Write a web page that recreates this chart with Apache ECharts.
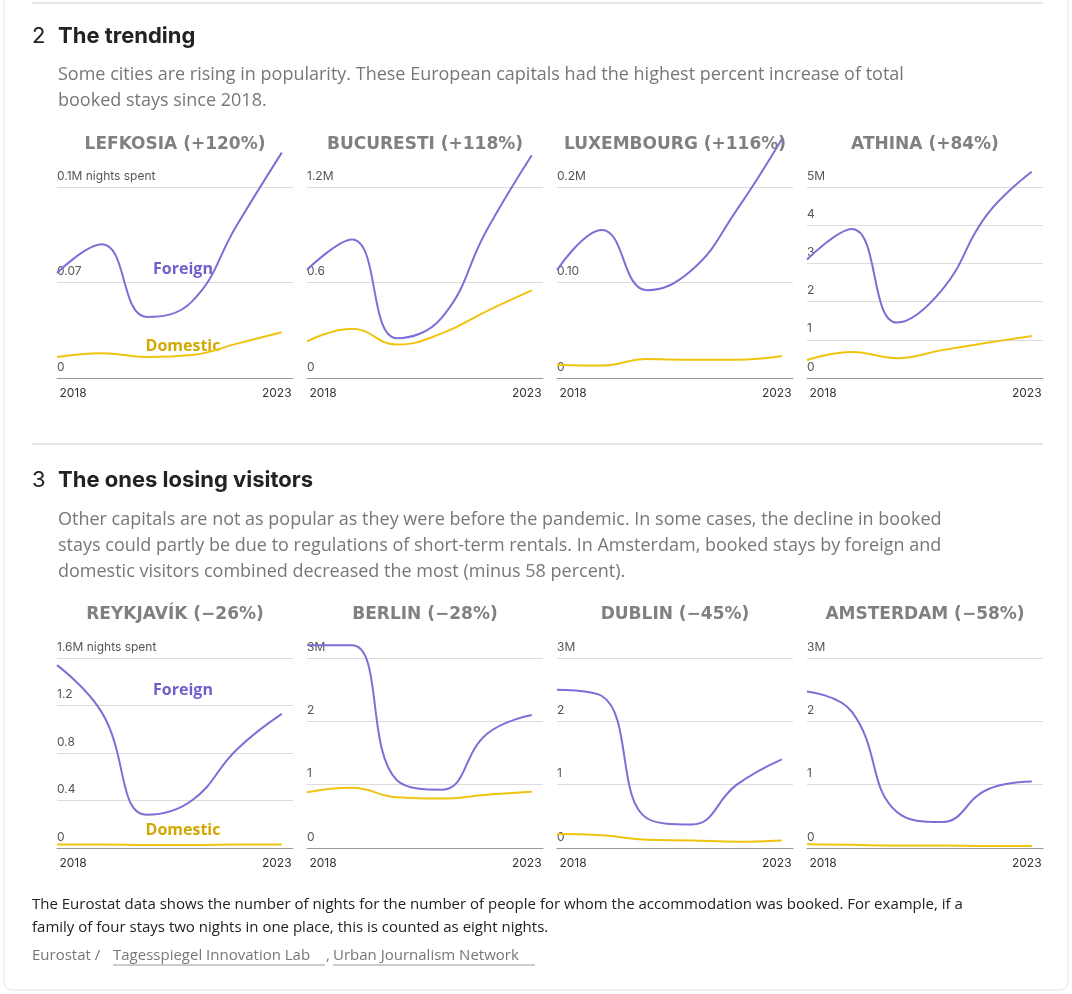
<!DOCTYPE html>
<html><head><meta charset="utf-8">
<script src="https://cdn.jsdelivr.net/npm/echarts@6/dist/echarts.min.js"></script>
<style>html,body{margin:0;padding:0;background:#fff}#c{width:1072px;height:994px}</style>
</head><body><div id="c"></div>
<script>
var years = [2018, 2019, 2020, 2021, 2022, 2023];
var titles = ['LEFKOSIA (+120%)', 'BUCURESTI (+118%)', 'LUXEMBOURG (+116%)', 'ATHINA (+84%)',
              'REYKJAVÍK (−26%)', 'BERLIN (−28%)', 'DUBLIN (−45%)', 'AMSTERDAM (−58%)'];
var foreign = [
    [0.055, 0.07, 0.032, 0.04, 0.08, 0.118],
    [0.68, 0.87, 0.25, 0.38, 0.93, 1.40],
    [0.113, 0.155, 0.092, 0.113, 0.176, 0.25],
    [3.1, 3.9, 1.45, 2.3, 4.27, 5.4],
    [1.54, 1.14, 0.28, 0.40, 0.83, 1.13],
    [3.2, 3.2, 1.07, 0.92, 1.8, 2.1],
    [2.5, 2.4, 0.47, 0.37, 1.0, 1.4],
    [2.47, 2.15, 0.57, 0.41, 0.92, 1.05]
];
var domestic = [
    [0.011, 0.013, 0.011, 0.012, 0.018, 0.024],
    [0.23, 0.31, 0.21, 0.28, 0.42, 0.55],
    [0.014, 0.013, 0.02, 0.019, 0.019, 0.023],
    [0.47, 0.68, 0.52, 0.73, 0.92, 1.1],
    [0.03, 0.03, 0.025, 0.025, 0.03, 0.03],
    [0.88, 0.95, 0.8, 0.78, 0.84, 0.89],
    [0.22, 0.2, 0.13, 0.12, 0.1, 0.12],
    [0.06, 0.05, 0.04, 0.04, 0.03, 0.03]
];
var yMax = [0.1, 1.2, 0.2, 5, 1.6, 3, 3, 3];
var yStep = [0.05, 0.6, 0.1, 1, 0.4, 1, 1, 1];
var tickLabels = [
    ['0', '0.07', '0.1M nights spent'],
    ['0', '0.6', '1.2M'],
    ['0', '0.10', '0.2M'],
    ['0', '1', '2', '3', '4', '5M'],
    ['0', '0.4', '0.8', '1.2', '1.6M nights spent'],
    ['0', '1', '2', '3M'],
    ['0', '1', '2', '3M'],
    ['0', '1', '2', '3M']
];

var PURPLE = '#7e6ed6', YELLOW = '#f0c30f';
var grids = [], xAxes = [], yAxes = [], series = [], graphic = [];

for (var i = 0; i < 8; i++) {
    var col = i % 4, row = Math.floor(i / 4);
    var left = 57 + 250 * col;
    grids.push({left: left, width: 236, top: row ? 658 : 187, height: row ? 190 : 191});
    xAxes.push({
        gridIndex: i, type: 'value', min: 2018, max: 2023.25, interval: 1,
        axisLine: {lineStyle: {color: '#999'}}, axisTick: {show: false}, splitLine: {show: false},
        axisLabel: {color: '#333', fontSize: 12, fontFamily: 'Inter', margin: 9,
            formatter: function (v) {
                if (v === 2018) return '{a|2018}';
                if (v === 2023) return '{b|2023}';
                return '';
            },
            rich: {
                a: {padding: [0, 0, 0, 32], fontSize: 12, fontFamily: 'Inter', color: '#333'},
                b: {padding: [0, 10, 0, 0], fontSize: 12, fontFamily: 'Inter', color: '#333'}
            }}
    });
    (function (labels, step) {
        yAxes.push({
            gridIndex: i, type: 'value', min: 0, max: yMax[i], interval: step,
            axisLine: {show: false}, axisTick: {show: false},
            splitLine: {lineStyle: {color: '#dcdcdc'}},
            axisLabel: {inside: true, verticalAlign: 'bottom', margin: 0, padding: [0, 0, 5, 0],
                color: '#555', fontSize: 12, fontFamily: 'Inter',
                formatter: function (v) { return labels[Math.round(v / step)] || ''; }}
        });
    })(tickLabels[i], yStep[i]);
    var f = years.map(function (y, k) { return [y, foreign[i][k]]; });
    var d = years.map(function (y, k) { return [y, domestic[i][k]]; });
    series.push({type: 'line', xAxisIndex: i, yAxisIndex: i, data: d, smooth: 0.45, symbol: 'none',
        clip: false, lineStyle: {color: YELLOW, width: 2}});
    series.push({type: 'line', xAxisIndex: i, yAxisIndex: i, data: f, smooth: 0.45, symbol: 'none',
        clip: false, lineStyle: {color: PURPLE, width: 2}});
    graphic.push({type: 'text', x: left + 118, y: row ? 615 : 145, style: {text: titles[i],
        font: 'bold 17px "DejaVu Sans"', fill: '#808080', textAlign: 'center', textVerticalAlign: 'middle'}});
}

function txt(x, y, s, font, fill, align) {
    graphic.push({type: 'text', x: x, y: y, style: {text: s, font: font, fill: fill || '#222',
        textAlign: align || 'left', textVerticalAlign: 'middle'}});
}
var HEAD = 'bold 22px Inter', SUB = '18px "Open Sans"';
// frame and separators
graphic.push({type: 'line', shape: {x1: 32, y1: 3, x2: 1043, y2: 3}, style: {stroke: '#ccc', lineWidth: 1}});
graphic.push({type: 'line', shape: {x1: 32, y1: 444, x2: 1043, y2: 444}, style: {stroke: '#ccc', lineWidth: 1}});
graphic.push({type: 'rect', shape: {x: 4, y: -10, width: 1064, height: 1000, r: 8}, style: {fill: 'none', stroke: '#e2e2e2'}});

txt(32, 36, '2', '22px Inter');
txt(58, 36, 'The trending', HEAD);
txt(58, 75, 'Some cities are rising in popularity. These European capitals had the highest percent increase of total', SUB, '#777');
txt(58, 101, 'booked stays since 2018.', SUB, '#777');
txt(32, 480, '3', '22px Inter');
txt(58, 480, 'The ones losing visitors', HEAD);
txt(58, 520, 'Other capitals are not as popular as they were before the pandemic. In some cases, the decline in booked', SUB, '#777');
txt(58, 546, 'stays could partly be due to regulations of short-term rentals. In Amsterdam, booked stays by foreign and', SUB, '#777');
txt(58, 572, 'domestic visitors combined decreased the most (minus 58 percent).', SUB, '#777');

txt(183, 269, 'Foreign', 'bold 16px "Open Sans"', '#6f5fcc', 'center');
txt(183, 346, 'Domestic', 'bold 16px "Open Sans"', '#d2a800', 'center');
txt(183, 690, 'Foreign', 'bold 16px "Open Sans"', '#6f5fcc', 'center');
txt(183, 830, 'Domestic', 'bold 16px "Open Sans"', '#d2a800', 'center');

txt(32, 905, 'The Eurostat data shows the number of nights for the number of people for whom the accommodation was booked. For example, if a', '15px "Open Sans"', '#222');
txt(32, 928, 'family of four stays two nights in one place, this is counted as eight nights.', '15px "Open Sans"', '#222');
txt(32, 956, 'Eurostat / ', '15px "Open Sans"', '#777');
txt(113, 956, 'Tagesspiegel Innovation Lab', '15px "Open Sans"', '#777');
txt(326, 956, ', ', '15px "Open Sans"', '#777');
txt(333, 956, 'Urban Journalism Network', '15px "Open Sans"', '#777');
graphic.push({type: 'line', shape: {x1: 113, y1: 965, x2: 325, y2: 965}, style: {stroke: '#999'}});
graphic.push({type: 'line', shape: {x1: 333, y1: 965, x2: 535, y2: 965}, style: {stroke: '#999'}});

var myChart = echarts.init(document.getElementById('c'));
myChart.setOption({
    animation: false,
    grid: grids, xAxis: xAxes, yAxis: yAxes, series: series, graphic: graphic
});
</script></body></html>
